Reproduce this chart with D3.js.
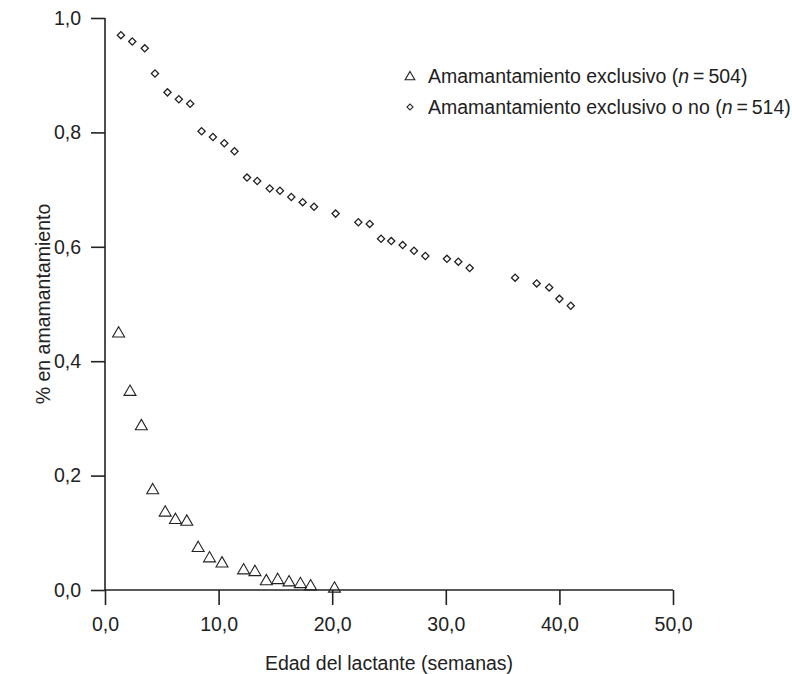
<!DOCTYPE html>
<html>
<head>
<meta charset="utf-8">
<script src="https://cdn.jsdelivr.net/npm/d3@7"></script>
<style>
  body { margin: 0; background: #fff; }
  svg text { font-family: "Liberation Sans", Arial, Helvetica, sans-serif; fill: #222; }
</style>
</head>
<body>
<div id="container"></div>
<script>
// exclusive breastfeeding (triangles)
const excl_weeks = [1.2, 2.2, 3.2, 4.2, 5.3, 6.2, 7.2, 8.2, 9.2, 10.3, 12.2, 13.2, 14.2, 15.2, 16.2, 17.2, 18.1, 20.2]
const excl_prop = [0.450, 0.348, 0.288, 0.176, 0.137, 0.124, 0.121, 0.075, 0.057, 0.048, 0.036, 0.033, 0.017, 0.019, 0.015, 0.012, 0.008, 0.004]

// any breastfeeding (diamonds)
const any_weeks = [1.4, 2.4, 3.5, 4.4, 5.5, 6.5, 7.5, 8.5, 9.5, 10.5, 11.4, 12.5, 13.4, 14.5, 15.4, 16.4, 17.4, 18.4, 20.3, 22.3, 23.3, 24.3, 25.2, 26.2, 27.2, 28.2, 30.1, 31.1, 32.1, 36.1, 38.0, 39.1, 40.0, 41.0]
const any_prop = [0.970, 0.959, 0.947, 0.903, 0.870, 0.858, 0.850, 0.802, 0.792, 0.781, 0.767, 0.721, 0.715, 0.702, 0.698, 0.687, 0.678, 0.670, 0.658, 0.643, 0.640, 0.614, 0.610, 0.603, 0.593, 0.584, 0.579, 0.574, 0.563, 0.546, 0.536, 0.529, 0.509, 0.497]

const x_ticks = [0, 10, 20, 30, 40, 50]
const y_ticks = [0, 0.2, 0.4, 0.6, 0.8, 1.0]
const legend_labels = ['Amamantamiento exclusivo', 'Amamantamiento exclusivo o no']
const legend_n = [504, 514]

const INK = '#222'
const FONT = '19.5px'
const scene_width = 792
const scene_height = 674

var svg = d3.select('#container').append('svg')
    .attr('width', scene_width)
    .attr('height', scene_height)

var x = d3.scaleLinear().domain([0, 50]).range([105, 673])
var y = d3.scaleLinear().domain([0, 1]).range([590, 18])

var comma = v => v.toFixed(1).replace('.', ',')

var xAxis = svg.append('g')
    .attr('transform', 'translate(0,' + y(0) + ')')
    .call(d3.axisBottom(x).tickValues(x_ticks).tickSize(15).tickPadding(12).tickFormat(comma))
var yAxis = svg.append('g')
    .attr('transform', 'translate(' + x(0) + ',0)')
    .call(d3.axisLeft(y).tickValues(y_ticks).tickSize(14).tickPadding(10).tickFormat(comma))

svg.selectAll('.domain').attr('stroke', INK).attr('stroke-width', 1.6)
xAxis.select('.domain').attr('d', 'M' + x(0) + ',0H' + x(50))
yAxis.select('.domain').attr('d', 'M0,' + y(1) + 'V' + y(0))
svg.selectAll('.tick line').attr('stroke', INK).attr('stroke-width', 1.6)
svg.selectAll('.tick text').style('font-size', FONT).attr('fill', INK)

svg.append('text')
    .attr('x', (x(0) + x(50)) / 2)
    .attr('y', 670)
    .attr('text-anchor', 'middle')
    .style('font-size', FONT)
    .text('Edad del lactante (semanas)')

svg.append('text')
    .attr('transform', 'translate(50,' + ((y(0) + y(1)) / 2) + ') rotate(-90)')
    .attr('text-anchor', 'middle')
    .style('font-size', FONT)
    .text('% en amamantamiento')

var triangle = d3.symbol().type(d3.symbolTriangle).size(62)
var diamond = d3.symbol().type(d3.symbolSquare).size(26)

svg.append('g').selectAll('path')
    .data(excl_weeks.map((w, i) => [w, excl_prop[i]]))
    .join('path')
    .attr('d', triangle)
    .attr('transform', d => 'translate(' + x(d[0]) + ',' + (y(d[1]) + 1) + ')')
    .attr('fill', 'none')
    .attr('stroke', INK)
    .attr('stroke-width', 1.1)

svg.append('g').selectAll('path')
    .data(any_weeks.map((w, i) => [w, any_prop[i]]))
    .join('path')
    .attr('d', diamond)
    .attr('transform', d => 'translate(' + x(d[0]) + ',' + y(d[1]) + ') rotate(45)')
    .attr('fill', 'none')
    .attr('stroke', INK)
    .attr('stroke-width', 1.3)

// legend
var legend = svg.append('g')
var rows = legend.selectAll('g')
    .data(legend_labels)
    .join('g')
    .attr('transform', (d, i) => 'translate(410,' + (76 + i * 31) + ')')

rows.append('path')
    .attr('d', (d, i) => i == 0 ? d3.symbol().type(d3.symbolTriangle).size(40)() : d3.symbol().type(d3.symbolSquare).size(18)())
    .attr('transform', (d, i) => i == 0 ? 'translate(0,1)' : 'rotate(45)')
    .attr('fill', 'none')
    .attr('stroke', INK)
    .attr('stroke-width', 1.1)

var lt = rows.append('text')
    .attr('x', 18)
    .attr('y', 7)
    .style('font-size', FONT)
lt.append('tspan').text(d => d + ' (')
lt.append('tspan').style('font-style', 'italic').text('n')
lt.append('tspan').text((d, i) => '\u2009=\u2009' + legend_n[i] + ')')
</script>
</body>
</html>
